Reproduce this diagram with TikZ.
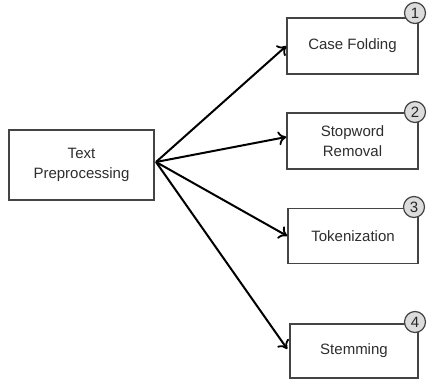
\documentclass[tikz,border=0pt]{standalone}
\usepackage{fontspec}
\setmainfont{Liberation Sans}
\usetikzlibrary{arrows.meta}
\definecolor{txt}{HTML}{2E2E2E}
\definecolor{edge}{HTML}{444444}
\definecolor{badgefill}{HTML}{DCDCDC}
\begin{document}
\begin{tikzpicture}[x=1pt,y=-1pt,
  box/.style={draw=edge,line width=1.5pt,fill=white,inner sep=0pt,text=txt,
    font=\fontsize{15}{20}\selectfont,align=center},
  badge/.style={circle,draw=edge,line width=1.2pt,fill=badgefill,minimum size=21pt,
    inner sep=0pt,text=black!85,font=\fontsize{15}{15}\selectfont},
  link/.style={line width=2pt,-{To[length=8pt,width=14pt,line width=1.8pt]}}]
\useasboundingbox (0,0) rectangle (428,380);
\node[box,minimum width=145pt,minimum height=70pt] (tp) at (81.5,165) {Text\\Preprocessing};
\node[box,minimum width=131pt,minimum height=56pt] (cf) at (352.5,46) {Case Folding};
\node[box,minimum width=131pt,minimum height=56pt] (sr) at (352.5,141) {Stopword\\Removal};
\node[box,minimum width=130pt,minimum height=55pt] (tk) at (353,236) {Tokenization};
\node[box,minimum width=128pt,minimum height=54pt] (st) at (354,351) {Stemming};
\node[badge] (b1) at (415,13) {1};
\node[badge] (b2) at (415,112) {2};
\node[badge] (b3) at (414,207) {3};
\node[badge] (b4) at (415,322) {4};
\coordinate (o) at (156,162);
\draw[link] (o) -- (cf.west);
\draw[link] (o) -- ([yshift=4pt]sr.west);
\draw[link] (o) -- (tk.west);
\draw[link] (o) -- ([xshift=-2pt,yshift=2pt]st.west);
\end{tikzpicture}
\end{document}
